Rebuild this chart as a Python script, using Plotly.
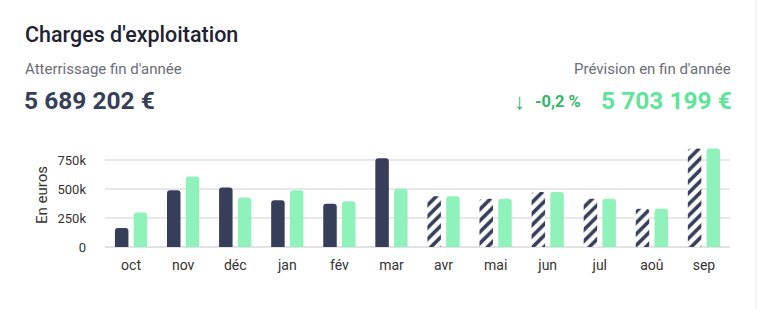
import plotly.graph_objects as go

months = ["oct", "nov", "déc", "jan", "fév", "mar", "avr", "mai", "jun", "jul", "aoû", "sep"]
atterrissage = [165000, 492000, 515000, 405000, 374000, 767000, 440000, 417000, 475000, 417000, 330000, 852000]
prevision = [298000, 611000, 428000, 492000, 396000, 504000, 440000, 417000, 475000, 417000, 330000, 852000]
is_forecast = [False] * 6 + [True] * 6
y_ticks = [0, 250000, 500000, 750000]
y_tick_labels = ["0", "250k", "500k", "750k"]

DARK = "#363e5a"
GREEN = "#8ff2ba"

W, H = 757, 309
L, R, T, B = 105, 27, 143, 62
PW, PH = W - L - R, H - T - B


def px(x):
    return (x - L) / PW


def py(y):
    return (H - B - y) / PH


fig = go.Figure()
fig.add_trace(go.Bar(
    x=months, y=atterrissage, name="Atterrissage",
    marker=dict(
        color=DARK,
        line=dict(width=0),
        pattern=dict(
            shape=["/" if f else "" for f in is_forecast],
            fgcolor=DARK, bgcolor="white", size=8, solidity=0.45,
            fillmode="replace",
        ),
    ),
    hoverinfo="skip",
))
fig.add_trace(go.Bar(
    x=months, y=prevision, name="Prévision",
    marker=dict(color=GREEN, line=dict(width=0)),
    hoverinfo="skip",
))

font_family = "Roboto, Inter, sans-serif"

annotations = [
    dict(text="Charges d'exploitation", x=px(23), y=py(34), xanchor="left", yanchor="middle",
         font=dict(size=21.5, color="#1f2230", family=font_family, weight=500)),
    dict(text="Atterrissage fin d'année", x=px(23), y=py(69), xanchor="left", yanchor="middle",
         font=dict(size=15, color="#6b6e78", family=font_family)),
    dict(text="<b>5 689 202 €</b>", x=px(22), y=py(100), xanchor="left", yanchor="middle",
         font=dict(size=24.5, color="#363e5a", family=font_family)),
    dict(text="Prévision en fin d'année", x=px(733), y=py(69), xanchor="right", yanchor="middle",
         font=dict(size=15, color="#6b6e78", family=font_family)),
    dict(text="<b>5 703 199 €</b>", x=px(734), y=py(100), xanchor="right", yanchor="middle",
         font=dict(size=24.5, color="#5de59a", family=font_family)),
    dict(text="<b>-0,2 %</b>", x=px(583), y=py(101), xanchor="right", yanchor="middle",
         font=dict(size=16.5, color="#34b567", family=font_family)),
    dict(text="↓", x=px(519), y=py(100), xanchor="center", yanchor="middle",
         font=dict(size=22, color="#34b567", family="Noto Sans, sans-serif")),
]
for a in annotations:
    a.update(xref="paper", yref="paper", showarrow=False)

# card outline (faint right edge)
shapes = [
    dict(type="rect", xref="paper", yref="paper", x0=px(755), x1=px(757), y0=py(0), y1=py(309),
         fillcolor="#f4f4f6", line=dict(width=0), layer="below"),
]

fig.update_layout(
    width=W, height=H,
    margin=dict(l=L, r=R, t=T, b=B),
    paper_bgcolor="white", plot_bgcolor="white",
    barmode="group", bargap=0.28, bargroupgap=0.28, barcornerradius=3,
    showlegend=False,
    font=dict(family=font_family, color="#333"),
    annotations=annotations,
    shapes=shapes,
    xaxis=dict(
        tickfont=dict(size=14, color="#333"), showgrid=False, showline=False,
        zeroline=False, ticks="", ticklabelstandoff=8, fixedrange=True,
    ),
    yaxis=dict(
        range=[0, 900000], tickvals=y_ticks, ticktext=y_tick_labels,
        tickfont=dict(size=13, color="#333"), showgrid=True, gridcolor="#e8e8ea", gridwidth=1.5,
        zeroline=True, zerolinecolor="#e2e2e4", zerolinewidth=2,
        ticks="", ticklabelstandoff=18,
        title=dict(text="En euros", font=dict(size=15, color="#333"), standoff=6),
        fixedrange=True,
    ),
)

fig.write_html("out.html", config={"displayModeBar": False})
